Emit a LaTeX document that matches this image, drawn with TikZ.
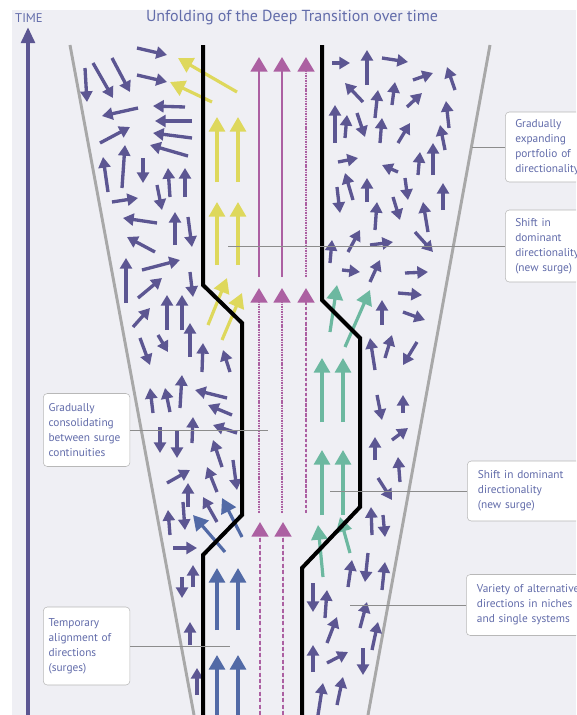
\documentclass[tikz,border=0pt]{standalone}
\usepackage{fontspec}
\setmainfont{PT Sans}
\usetikzlibrary{arrows.meta}

\definecolor{bgcol}{RGB}{239,239,244}
\definecolor{swarm}{RGB}{92,86,146}
\definecolor{surgepink}{RGB}{172,96,162}
\definecolor{surgeyellow}{RGB}{222,216,92}
\definecolor{surgeteal}{RGB}{108,184,160}
\definecolor{surgeblue}{RGB}{82,106,166}
\definecolor{labeltext}{RGB}{98,108,170}
\definecolor{funnelgray}{RGB}{168,168,168}

\begin{document}
\begin{tikzpicture}[
    x=0.75pt, y=-0.75pt,
    swarmarrow/.style={-{Triangle[width=9pt,length=8pt]}, line width=2.5pt, draw=swarm},
    surgearrow/.style={-{Triangle[width=12pt,length=11pt]}, line width=2.4pt},
    pinkarrow/.style={-{Triangle[width=12.5pt,length=11pt]}, line width=2.2pt, draw=surgepink, fill=surgepink},
    funnel/.style={line width=2.2pt, draw=funnelgray},
    border/.style={line width=3pt, draw=black, line join=miter},
    callout/.style={rectangle, draw=black!28, fill=white, rounded corners=3pt, align=left, anchor=west,
      font=\fontsize{8.5}{11.25}\selectfont, text=labeltext, inner xsep=7.5pt, inner ysep=0pt},
    leader/.style={draw=black!45, line width=0.4pt}
  ]
    \useasboundingbox (0,0) rectangle (576,715);
    \clip (0,0) rectangle (576,715);
    \fill[bgcol] (12,10) rectangle (576,715);

    % Time axis and title
    \node[font=\fontsize{9.5}{10}\selectfont, text=labeltext] (timelabel) at (29,18) {TIME};
    \coordinate (timebase) at (28,715);
    \coordinate (timetop) at (28,27);
    \draw[-{Triangle[width=10pt,length=12pt]}, line width=3pt, draw=swarm, fill=swarm] (timebase) -- (timetop);
    \node[font=\fontsize{12}{14}\selectfont, text=labeltext] (title) at (292,18) {Unfolding of the Deep Transition over time};

    % Funnel of possible directions
    \draw[funnel] (70,45) -- (194,715);
    \draw[funnel] (490,45) -- (368,715);

    % Dominant directionality (pink, three periods)
    \draw[pinkarrow] (259,277) -- (259,57);
    \draw[pinkarrow] (282,277) -- (282,57);
    \draw[pinkarrow, dash pattern=on 1.2pt off 0.7pt] (306,277) -- (306,57);
    \draw[pinkarrow, dash pattern=on 1.2pt off 0.7pt] (259,513) -- (259,288);
    \draw[pinkarrow, dash pattern=on 1.2pt off 0.7pt] (282,513) -- (282,288);
    \draw[pinkarrow, dash pattern=on 2.5pt off 1.3pt] (306,513) -- (306,288);
    \draw[pinkarrow, dash pattern=on 3pt off 1.8pt] (260,715) -- (260,522);
    \draw[pinkarrow, dash pattern=on 3pt off 1.8pt] (283,715) -- (283,522);

    % Surges
    \begin{scope}[surgearrow, draw=surgeyellow, fill=surgeyellow]
      \draw (237,92) -- (178,58);
      \draw (212,102) -- (170,82);
      \draw (217,182) -- (217,117);
      \draw (238,182) -- (238,117);
      \draw (217,265) -- (217,202);
      \draw (238,265) -- (238,202);
      \draw (208,325) -- (227,278);
      \draw (222,340) -- (242,293);
    \end{scope}
    \begin{scope}[surgearrow, draw=surgeteal, fill=surgeteal]
      \draw (330,332) -- (337,285);
      \draw (345,347) -- (370,290);
      \draw (322,422) -- (322,358);
      \draw (343,422) -- (343,358);
      \draw (322,515) -- (322,450);
      \draw (343,515) -- (343,450);
      \draw (323,577) -- (318,525);
      \draw (350,553) -- (340,517);
    \end{scope}
    \begin{scope}[surgearrow, draw=surgeblue, fill=surgeblue]
      \draw (225,552) -- (193,515);
      \draw (242,537) -- (222,498);
      \draw (217,630) -- (217,568);
      \draw (238,630) -- (238,568);
      \draw (217,715) -- (217,655);
      \draw (238,715) -- (238,655);
    \end{scope}

    % Alternative directions, left side
    \foreach \tx/\ty/\hx/\hy in {137/48/167/55, 137/75/167/82, 112/58/130/92, 93/63/113/98, 85/68/87/102,
        138/108/102/116, 185/107/153/106, 192/121/155/121, 192/138/153/133, 188/156/150/145,
        100/143/130/127, 108/192/103/157, 122/188/125/145, 143/158/143/183, 170/197/168/168,
        185/197/185/168, 157/185/162/210, 112/202/138/198, 157/223/123/218, 175/245/175/212,
        188/217/192/247, 155/252/127/237, 126/303/126/258, 142/270/180/260, 138/298/162/278,
        190/272/193/297, 167/330/167/295, 182/330/182/295, 133/327/150/308, 190/357/190/323,
        140/338/150/365, 158/335/168/352, 202/372/203/343, 230/372/223/350, 153/413/150/388,
        170/412/165/388, 180/408/182/375, 227/398/195/390, 232/415/208/405, 160/427/160/453,
        177/430/177/458, 192/443/193/417, 237/433/213/425, 222/467/213/440, 167/483/190/470,
        217/492/207/467, 233/460/237/490, 188/507/188/483, 217/522/203/497, 170/535/168/510,
        183/502/185/530, 173/548/197/548, 193/587/193/565, 182/577/182/598, 190/645/190/622,
        197/695/197/668}
      \draw[swarmarrow] (\tx,\ty) -- (\hx,\hy);

    % Alternative directions, right side
    \foreach \tx/\ty/\hx/\hy in {332/63/350/63, 367/85/367/50, 382/58/408/62, 363/102/345/83, 375/118/378/90,
        392/105/395/82, 407/107/422/93, 413/80/433/73, 455/90/447/67, 449/128/446/101,
        335/143/335/105, 345/138/347/115, 357/113/365/137, 380/143/382/118, 398/143/410/123,
        445/150/440/125, 338/162/358/158, 398/172/382/165, 418/175/420/152, 433/175/433/143,
        353/200/345/173, 337/187/340/213, 367/202/367/178, 405/178/408/200, 443/210/443/183,
        375/230/377/202, 393/197/400/220, 428/232/423/202, 415/232/433/252, 330/263/332/240,
        348/252/360/230, 370/245/393/242, 342/270/360/272, 370/282/380/260, 405/273/428/272,
        398/293/422/295, 382/325/382/300, 403/312/425/320, 375/370/370/338, 385/358/392/335,
        417/342/403/365, 377/395/382/420, 403/413/403/395, 392/440/408/428, 375/460/375/437,
        400/482/398/457, 378/478/392/500, 372/535/371/507, 383/515/385/537, 348/587/352/560,
        368/553/365/582, 382/590/385/562, 313/583/313/612, 325/618/327/590, 327/643/337/617,
        360/628/367/602, 372/650/378/622, 313/672/313/645, 327/663/348/652, 363/648/363/675,
        318/715/323/683, 337/705/343/677}
      \draw[swarmarrow] (\tx,\ty) -- (\hx,\hy);

    % Borders of the dominant path
    \draw[border] (203,45) -- (203,285) -- (242,323) -- (242,515) -- (203,555) -- (203,715);
    \draw[border] (322,45) -- (322,300) -- (360,338) -- (360,507) -- (302,568) -- (302,715);

    % Callouts
    \node[callout, minimum height=52.5pt, text width=80pt] (expand) at (505,147) {Gradually\\expanding\\portfolio of\\directionality};
    \node[callout, minimum height=54pt, text width=80pt] (shifttop) at (505,246) {Shift in\\dominant\\directionality\\(new surge)};
    \node[callout, minimum height=54.75pt, text width=57pt, inner xsep=4pt] (consolidate) at (43,430) {Gradually\\consolidating\\between surge\\continuities};
    \node[callout, minimum height=45pt, text width=90pt, inner xsep=8pt] (shiftmid) at (467,491) {Shift in dominant\\directionality\\(new surge)};
    \node[callout, minimum height=45.75pt, text width=90pt, inner xsep=8pt] (variety) at (466,605) {Variety of alternative\\directions in niches\\and single systems};
    \node[callout, minimum height=58.5pt, text width=57pt, inner xsep=4pt] (temporary) at (43,646) {Temporary\\alignment of\\directions\\(surges)};

    \coordinate (expandend) at (472,147);
    \coordinate (shifttopend) at (228,246);
    \coordinate (consolidateend) at (268,430);
    \coordinate (shiftmidend) at (330,491);
    \coordinate (varietyend) at (350,605);
    \coordinate (temporaryend) at (230,646);
    \draw[leader] (expand.west) -- (expandend);
    \draw[leader] (shifttop.west) -- (shifttopend);
    \draw[leader] (consolidate.east) -- (consolidateend);
    \draw[leader] (shiftmid.west) -- (shiftmidend);
    \draw[leader] (variety.west) -- (varietyend);
    \draw[leader] (temporary.east) -- (temporaryend);

  \end{tikzpicture}
\end{document}
